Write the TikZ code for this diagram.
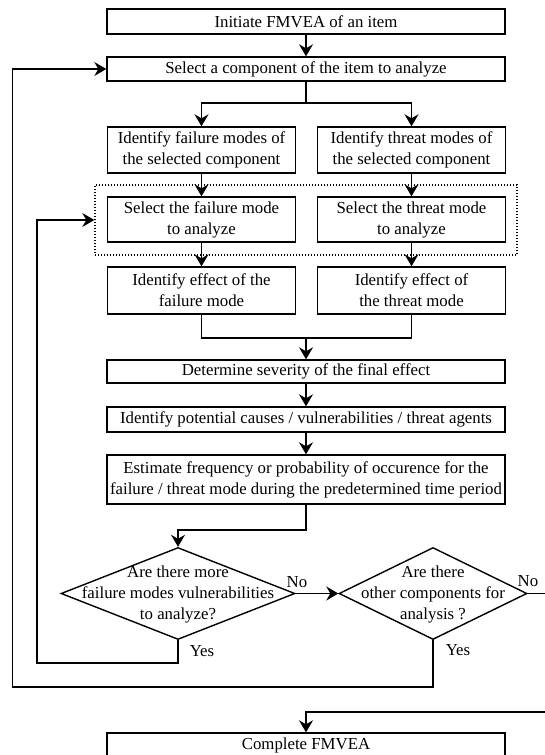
\documentclass[tikz,border=0pt]{standalone}
\usepackage{fontspec}
\setmainfont{Liberation Serif}
\usetikzlibrary{arrows.meta,shapes.geometric}
\begin{document}
\begin{tikzpicture}[x=1pt,y=-1pt,
  every node/.style={font=\fontsize{16.8}{21}\selectfont},
  wide/.style={draw, line width=1.4pt, align=center, inner sep=0pt, minimum width=398pt, minimum height=24pt},
  half/.style={draw, line width=1.4pt, align=center, inner sep=0pt, minimum width=188pt, minimum height=46pt},
  decision/.style={draw, diamond, line width=1.4pt, inner sep=0pt},
  flow/.style={line width=1.4pt, -{Stealth[length=12pt,width=14pt,inset=4pt]}},
  link/.style={line width=1.4pt},
  group/.style={draw, line width=1.4pt, dash pattern=on 1.3pt off 1.7pt, inner sep=0pt, minimum width=422pt, minimum height=70pt},
  tag/.style={inner sep=0pt}
]
\useasboundingbox (0,0) rectangle (545,755);
\clip (0,0) rectangle (545,755);
\fill[white] (0,0) rectangle (545,755);

% process boxes
\node[wide, minimum height=25pt] (init) at (306,21.5) {Initiate FMVEA of an item};
\node[wide] (sel) at (306,69) {Select a component of the item to analyze};
\node[half] (idf) at (201.5,150) {Identify failure modes of\\the selected component};
\node[half] (idt) at (411.5,150) {Identify threat modes of\\the selected component};
\node[group] (grp) at (306,220) {};
\node[half, minimum height=45pt] (sf) at (201.5,219.5) {Select the failure mode\\to analyze};
\node[half, minimum height=45pt] (st) at (411.5,219.5) {Select the threat mode\\to analyze};
\node[half, minimum height=47pt] (ef) at (201.5,290.5) {Identify effect of the\\failure mode};
\node[half, minimum height=47pt] (et) at (411.5,290.5) {Identify effect of\\the threat mode};
\node[wide, minimum height=23pt] (det) at (306,371.5) {Determine severity of the final effect};
\node[wide, minimum height=25pt] (pot) at (306,419.5) {Identify potential causes / vulnerabilities / threat agents};
\node[wide, minimum height=49pt] (est) at (306,479.5) {Estimate frequency or probability of occurence for the\\failure / threat mode during the predetermined time period};

% decisions
\node[decision, minimum width=234pt, minimum height=92pt] (d1) at (178,593.5) {};
\node[align=center, inner sep=0pt] (d1t) at (178,594) {Are there more\\failure modes vulnerabilities\\to analyze?};
\node[decision, minimum width=188pt, minimum height=92pt] (d2) at (433,593.5) {};
\node[align=center, inner sep=0pt] (d2t) at (433,594) {Are there\\other components for\\analysis ?};

\node[wide, minimum height=25pt] (comp) at (306,745.5) {Complete FMVEA};

% labels
\node[tag] (no1) at (297,582) {No};
\node[tag] (no2) at (528,581) {No};
\node[tag] (yes1) at (202,651) {Yes};
\node[tag] (yes2) at (458,650) {Yes};

% routing points
\coordinate (split) at (306,103);
\coordinate (merge) at (306,338);
\coordinate (ejog) at (178,530);
\coordinate (ib) at (37,663);
\coordinate (ob) at (12.7,687);
\coordinate (rjog) at (560,712);

% connectors
\draw[flow] (init) -- (sel);
\draw[link] (sel) -- (split);
\draw[flow] (split) -| (idf.north);
\draw[flow] (split) -| (idt.north);
\draw[flow] (idf) -- (sf);
\draw[flow] (idt) -- (st);
\draw[flow] (sf) -- (ef);
\draw[flow] (st) -- (et);
\draw[link] (ef.south) |- (merge) -| (et.south);
\draw[flow] (merge) -- (det.north);
\draw[flow] (det) -- (pot);
\draw[flow] (pot) -- (est);
\draw[flow] (est.south) |- (ejog) -- (d1.north);
\draw[flow] (d1.east) -- (d2.west);
\draw[flow] (d1.south) |- (ib) |- (grp.west);
\draw[flow] (d2.south) |- (ob) |- (sel.west);
\draw[flow] (d2.east) -| (rjog) -| (comp.north);
\end{tikzpicture}
\end{document}
